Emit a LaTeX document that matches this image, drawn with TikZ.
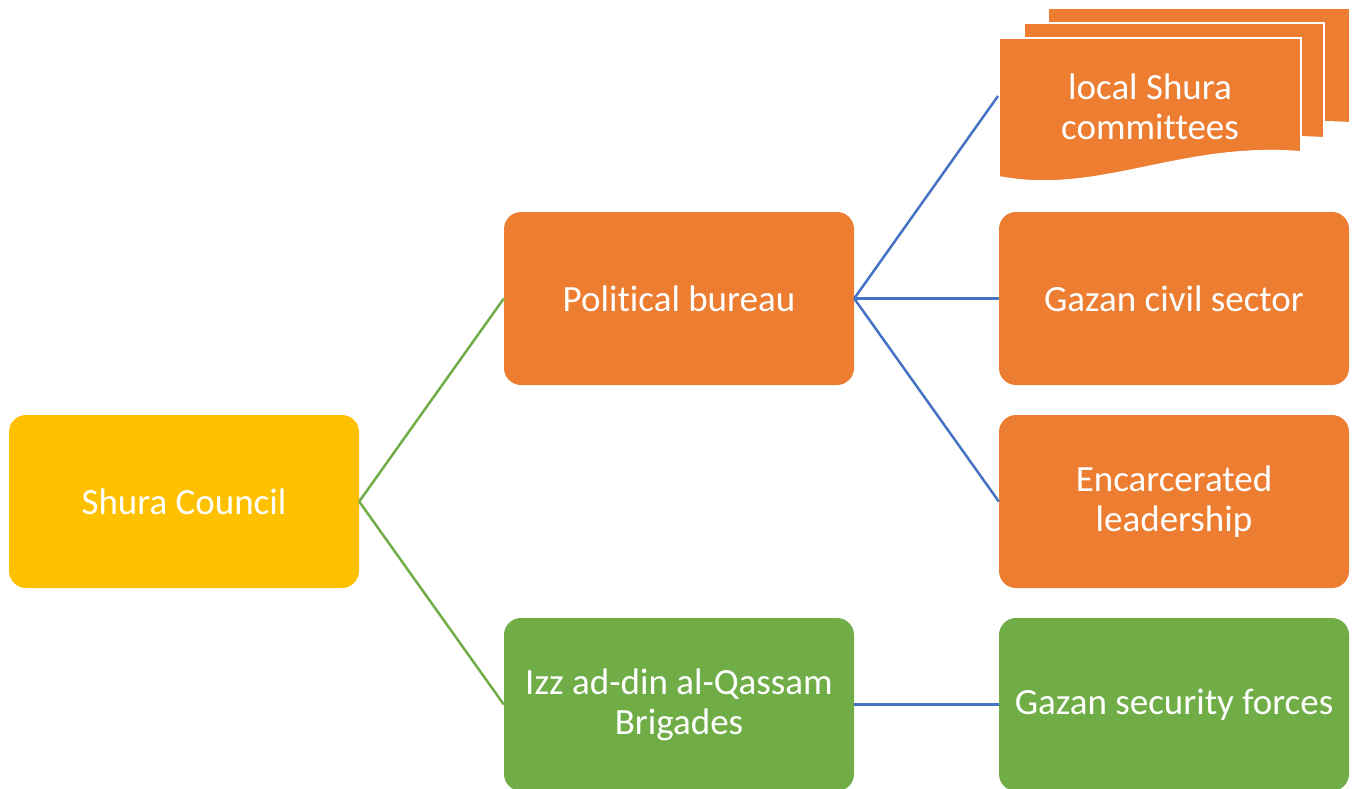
\documentclass[tikz,border=0pt]{standalone}
\usepackage{fontspec}
\setmainfont{Carlito}[Ligatures=NoCommon]
\definecolor{cyellow}{HTML}{FFC000}
\definecolor{corange}{HTML}{ED7D31}
\definecolor{cgreen}{HTML}{70AD47}
\definecolor{cblue}{HTML}{4472C4}
\begin{document}
\begin{tikzpicture}[x=1pt,y=1pt,
  box/.style={minimum width=350pt,minimum height=173pt,rounded corners=17pt,
    text=white,align=center,inner sep=0pt,font=\fontsize{37}{40}\selectfont},
  gline/.style={cgreen,line width=2.5pt},
  bline/.style={cblue,line width=2.5pt},
  page/.style={fill=corange,draw=white,line width=1.8pt}]
\useasboundingbox (0,0) rectangle (1359,-789);
% boxes
\node[box,fill=cyellow] (sc) at (184,-501.5) {Shura Council};
\node[box,fill=corange] (pb) at (679,-298.5) {Political bureau};
\node[box,fill=cgreen] (iq) at (679,-704.5) {Izz ad-din al-Qassam\\Brigades};
\node[box,fill=corange] (gc) at (1174,-298.5) {Gazan civil sector};
\node[box,fill=corange] (el) at (1174,-501.5) {Encarcerated\\leadership};
\node[box,fill=cgreen] (gs) at (1174,-704.5) {Gazan security forces};
% multi-document
\draw[page] (1048,-8) -- (1350,-8) -- (1350,-123) .. controls (1250,-115) and (1150,-160) .. (1048,-140) -- cycle;
\draw[page] (1024,-23) -- (1324,-23) -- (1324,-138) .. controls (1220,-130) and (1120,-175) .. (1024,-155) -- cycle;
\draw[page] (999,-38) -- (1301,-38) -- (1301,-152) .. controls (1180,-142) and (1100,-196) .. (999,-177) -- cycle;
\node[text=white,align=center,font=\fontsize{37}{40}\selectfont] (lsc) at (1150,-107) {local Shura\\committees};
\coordinate (docw) at (998,-96);
% connectors
\draw[gline] (sc.east) -- (pb.west);
\draw[gline] (sc.east) -- (iq.west);
\draw[bline] (pb.east) -- (docw);
\draw[bline] (pb.east) -- (gc.west);
\draw[bline] (pb.east) -- (el.west);
\draw[bline] (iq.east) -- (gs.west);
\end{tikzpicture}
\end{document}
